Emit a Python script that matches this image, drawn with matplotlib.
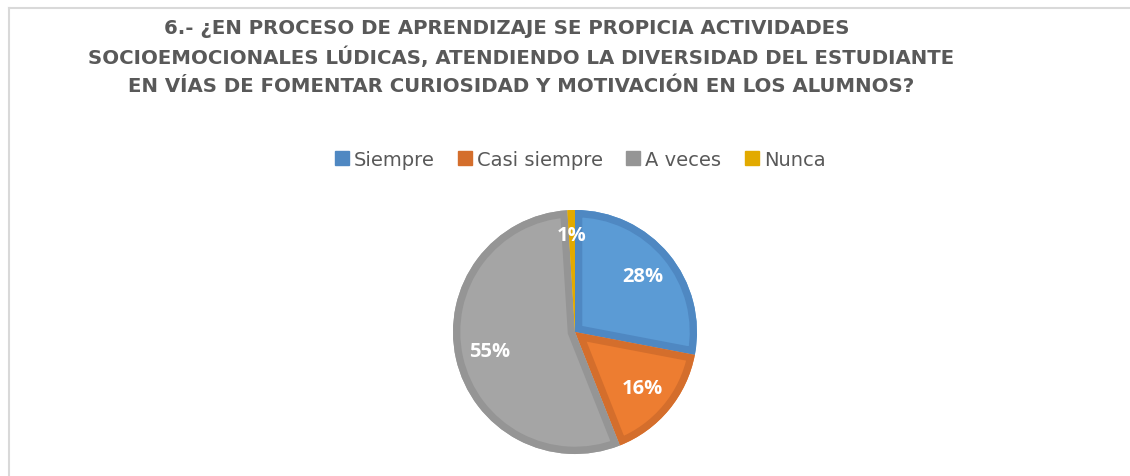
import matplotlib
matplotlib.use("Agg")
import matplotlib.pyplot as plt
from matplotlib.patches import Patch, Wedge
from matplotlib.lines import Line2D

categories = ["Siempre", "Casi siempre", "A veces", "Nunca"]
values = [28, 16, 55, 1]
face_colors = ["#5B9BD5", "#ED7D31", "#A5A5A5", "#FFC000"]
edge_colors = ["#4F88C2", "#D46E2C", "#959595", "#E2AA00"]
title_lines = [
    "6.- ¿EN PROCESO DE APRENDIZAJE SE PROPICIA ACTIVIDADES",
    "SOCIOEMOCIONALES LÚDICAS, ATENDIENDO LA DIVERSIDAD DEL ESTUDIANTE",
    "EN VÍAS DE FOMENTAR CURIOSIDAD Y MOTIVACIÓN EN LOS ALUMNOS?",
]

W, H = 1130, 477
fig = plt.figure(figsize=(W / 100, H / 100), dpi=100)
fig.patch.set_facecolor("white")

# frame lines (top and left visible)
fig.add_artist(Line2D([9 / W, 1.0], [1 - 9 / H, 1 - 9 / H], color="#D9D9D9", lw=1.5))
fig.add_artist(Line2D([9 / W, 9 / W], [0, 1 - 9 / H], color="#D9D9D9", lw=1.5))

# title
title_x = [507, 521, 521]
title_y = [29, 57, 87]
for line, tx, ty in zip(title_lines, title_x, title_y):
    fig.text(tx / W, 1 - ty / H, line, ha="center", va="center",
             fontsize=14.2, fontweight="bold", color="#595959", family="DejaVu Sans")

# pie
cx, cy, r = 575, 333, 122
ax = fig.add_axes([(cx - r) / W, (H - cy - r) / H, 2 * r / W, 2 * r / H])
wedges, texts, autotexts = ax.pie(
    values, colors=face_colors, startangle=90, counterclock=False, radius=1,
    autopct="%1.0f%%", pctdistance=0.72,
    textprops=dict(color="white", fontsize=14.5, fontweight="bold", family="Open Sans"),
    wedgeprops=dict(linewidth=0),
)
for w, ec in zip(wedges, edge_colors):
    band = Wedge(w.center, w.r, w.theta1, w.theta2, facecolor="none",
                 edgecolor=ec, linewidth=10.5, zorder=w.get_zorder() + 0.1)
    ax.add_patch(band)
    band.set_clip_path(w)
for t in autotexts:
    t.set_zorder(5)
x, y = autotexts[3].get_position()
autotexts[3].set_position((x * 1.1, y * 1.1))
ax.set_xlim(-1, 1)
ax.set_ylim(-1, 1)
ax.axis("off")

# legend
handles = [Patch(facecolor=c, edgecolor=c) for c in edge_colors]
leg = fig.legend(handles, categories, loc="center", bbox_to_anchor=(580 / W, 1 - 160 / H),
                 ncol=4, frameon=False, handlelength=0.72, handleheight=0.72,
                 handletextpad=0.26, columnspacing=1.2,
                 prop=dict(family="DejaVu Sans", size=14))
for t in leg.get_texts():
    t.set_color("#595959")

fig.savefig("out.png", dpi=100, facecolor="white")
